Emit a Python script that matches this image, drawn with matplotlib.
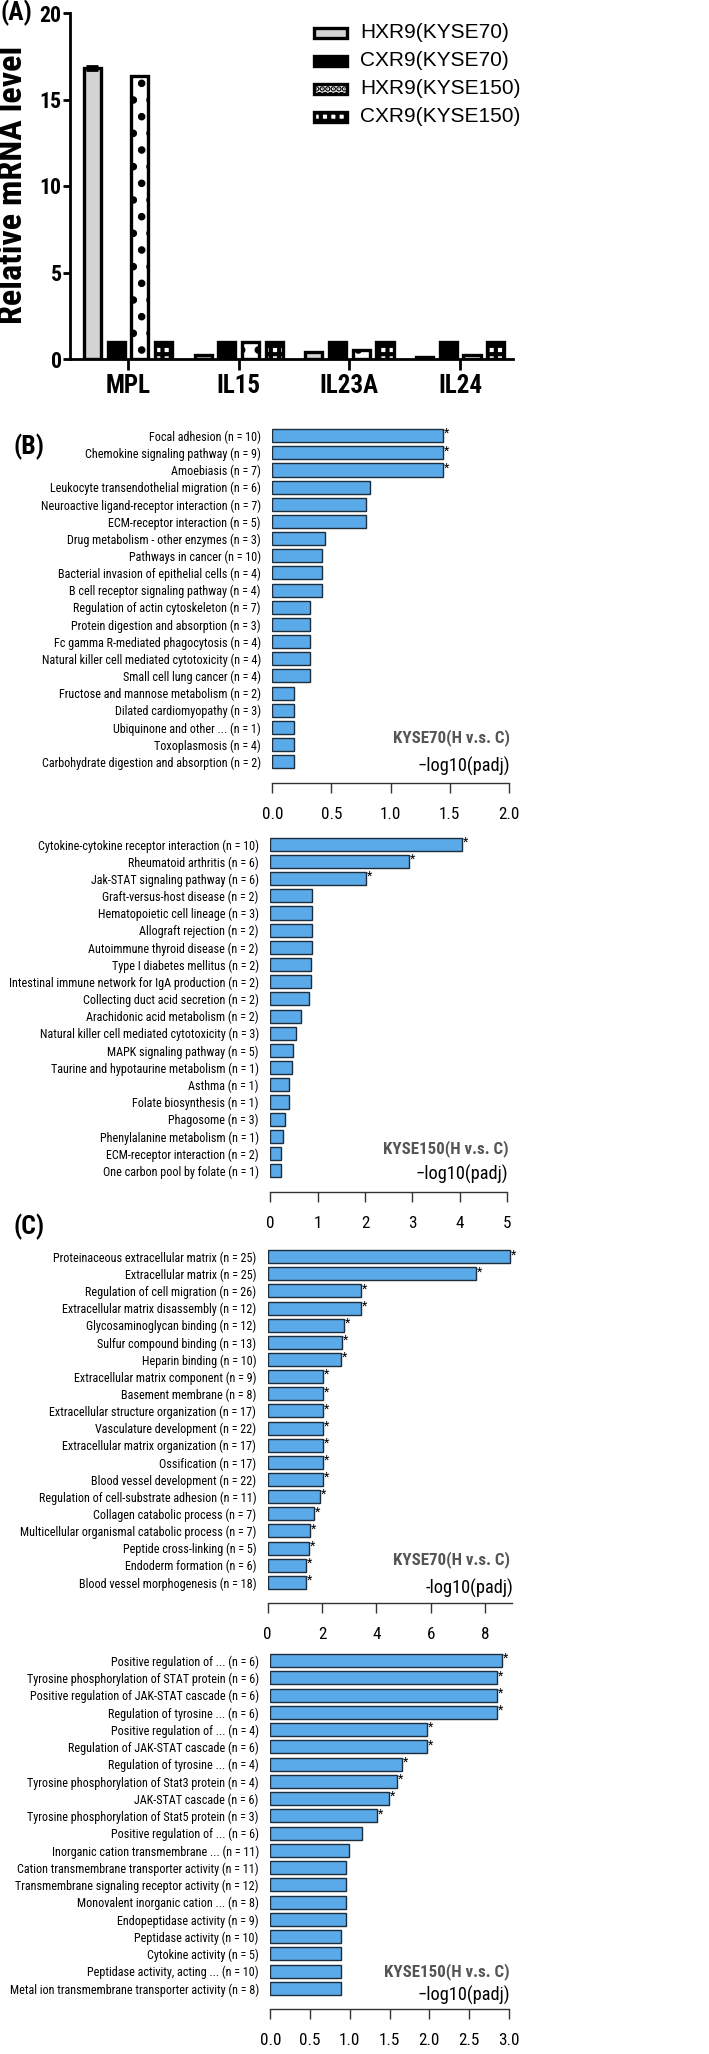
import os
import numpy as np
import matplotlib
matplotlib.use("Agg")
import matplotlib.pyplot as plt
from matplotlib import font_manager as fm
from matplotlib.font_manager import FontProperties
from matplotlib.patches import Rectangle

# ---------------- data ----------------
genes = ["MPL", "IL15", "IL23A", "IL24"]
series_names = ["HXR9(KYSE70)", "CXR9(KYSE70)", "HXR9(KYSE150)", "CXR9(KYSE150)"]
hxr9_kyse70 = [16.8, 0.25, 0.38, 0.10]
cxr9_kyse70 = [1.0, 1.0, 1.0, 1.0]
hxr9_kyse150 = [16.35, 1.0, 0.50, 0.22]
cxr9_kyse150 = [1.0, 1.0, 1.0, 1.0]
hxr9_kyse70_err = [0.12, 0.0, 0.0, 0.0]

kegg70_terms = [
    "Focal adhesion (n = 10)", "Chemokine signaling pathway (n = 9)", "Amoebiasis (n = 7)",
    "Leukocyte transendothelial migration (n = 6)", "Neuroactive ligand-receptor interaction (n = 7)",
    "ECM-receptor interaction (n = 5)", "Drug metabolism - other enzymes (n = 3)",
    "Pathways in cancer (n = 10)", "Bacterial invasion of epithelial cells (n = 4)",
    "B cell receptor signaling pathway (n = 4)", "Regulation of actin cytoskeleton (n = 7)",
    "Protein digestion and absorption (n = 3)", "Fc gamma R-mediated phagocytosis (n = 4)",
    "Natural killer cell mediated cytotoxicity (n = 4)", "Small cell lung cancer (n = 4)",
    "Fructose and mannose metabolism (n = 2)", "Dilated cardiomyopathy (n = 3)",
    "Ubiquinone and other ... (n = 1)", "Toxoplasmosis (n = 4)",
    "Carbohydrate digestion and absorption (n = 2)"]
kegg70_vals = [1.445, 1.445, 1.445, 0.826, 0.795, 0.795, 0.448, 0.423, 0.423, 0.423,
               0.319, 0.319, 0.319, 0.319, 0.319, 0.183, 0.183, 0.183, 0.183, 0.183]
kegg70_sig = [1, 1, 1] + [0] * 17

kegg150_terms = [
    "Cytokine-cytokine receptor interaction (n = 10)", "Rheumatoid arthritis (n = 6)",
    "Jak-STAT signaling pathway (n = 6)", "Graft-versus-host disease (n = 2)",
    "Hematopoietic cell lineage (n = 3)", "Allograft rejection (n = 2)",
    "Autoimmune thyroid disease (n = 2)", "Type I diabetes mellitus (n = 2)",
    "Intestinal immune network for IgA production (n = 2)", "Collecting duct acid secretion (n = 2)",
    "Arachidonic acid metabolism (n = 2)", "Natural killer cell mediated cytotoxicity (n = 3)",
    "MAPK signaling pathway (n = 5)", "Taurine and hypotaurine metabolism (n = 1)",
    "Asthma (n = 1)", "Folate biosynthesis (n = 1)", "Phagosome (n = 3)",
    "Phenylalanine metabolism (n = 1)", "ECM-receptor interaction (n = 2)",
    "One carbon pool by folate (n = 1)"]
kegg150_vals = [4.04, 2.92, 2.015, 0.874, 0.874, 0.874, 0.874, 0.853, 0.853, 0.824,
                0.648, 0.549, 0.486, 0.458, 0.401, 0.401, 0.303, 0.275, 0.226, 0.219]
kegg150_sig = [1, 1, 1] + [0] * 17

go70_terms = [
    "Proteinaceous extracellular matrix (n = 25)", "Extracellular matrix (n = 25)",
    "Regulation of cell migration (n = 26)", "Extracellular matrix disassembly (n = 12)",
    "Glycosaminoglycan binding (n = 12)", "Sulfur compound binding (n = 13)",
    "Heparin binding (n = 10)", "Extracellular matrix component (n = 9)",
    "Basement membrane (n = 8)", "Extracellular structure organization (n = 17)",
    "Vasculature development (n = 22)", "Extracellular matrix organization (n = 17)",
    "Ossification (n = 17)", "Blood vessel development (n = 22)",
    "Regulation of cell-substrate adhesion (n = 11)", "Collagen catabolic process (n = 7)",
    "Multicellular organismal catabolic process (n = 7)", "Peptide cross-linking (n = 5)",
    "Endoderm formation (n = 6)", "Blood vessel morphogenesis (n = 18)"]
go70_vals = [8.91, 7.66, 3.42, 3.42, 2.82, 2.73, 2.71, 2.04, 2.04, 2.02,
             2.02, 2.02, 2.02, 2.02, 1.92, 1.71, 1.57, 1.53, 1.41, 1.41]
go70_sig = [1] * 20

go150_terms = [
    "Positive regulation of ... (n = 6)", "Tyrosine phosphorylation of STAT protein (n = 6)",
    "Positive regulation of JAK-STAT cascade (n = 6)", "Regulation of tyrosine ... (n = 6)",
    "Positive regulation of ... (n = 4)", "Regulation of JAK-STAT cascade (n = 6)",
    "Regulation of tyrosine ... (n = 4)", "Tyrosine phosphorylation of Stat3 protein (n = 4)",
    "JAK-STAT cascade (n = 6)", "Tyrosine phosphorylation of Stat5 protein (n = 3)",
    "Positive regulation of ... (n = 6)", "Inorganic cation transmembrane ... (n = 11)",
    "Cation transmembrane transporter activity (n = 11)",
    "Transmembrane signaling receptor activity (n = 12)",
    "Monovalent inorganic cation ... (n = 8)", "Endopeptidase activity (n = 9)",
    "Peptidase activity (n = 10)", "Cytokine activity (n = 5)",
    "Peptidase activity, acting ... (n = 10)",
    "Metal ion transmembrane transporter activity (n = 8)"]
go150_vals = [2.92, 2.857, 2.857, 2.857, 1.976, 1.976, 1.661, 1.59, 1.494, 1.339,
              1.15, 0.987, 0.949, 0.949, 0.949, 0.949, 0.89, 0.89, 0.89, 0.89]
go150_sig = [1] * 10 + [0] * 10

# ---------------- fonts ----------------
REG = "Liberation Sans"
plt.rcParams["font.family"] = [REG, "DejaVu Sans"]
plt.rcParams["hatch.linewidth"] = 3.0

PREF = ["liberationsansnarrow", "robotocondensed", "notosans", "opensans",
        "arimo", "dejavusans"]


def _weight(w):
    try:
        return int(w)
    except Exception:
        return {"normal": 400, "regular": 400, "book": 400, "medium": 500,
                "bold": 700, "light": 300}.get(str(w).lower(), 400)


def find_condensed(bold):
    best, best_rank = None, 99
    for f in fm.fontManager.ttflist:
        if f.style != "normal":
            continue
        fn = os.path.basename(f.fname).lower().replace("-", "").replace("_", "")
        nm = f.name.lower()
        st = str(f.stretch).lower()
        cond = ("narrow" in nm or "condensed" in nm or "narrow" in fn
                or "condensed" in fn or st == "condensed")
        if not cond:
            continue
        if "extra" in fn or "ultra" in fn or "semi" in fn or "italic" in fn:
            continue
        w = _weight(f.weight)
        if (bold and w != 700) or ((not bold) and w != 400):
            continue
        rank = next((i for i, p in enumerate(PREF) if fn.startswith(p)), len(PREF))
        if rank < best_rank:
            best, best_rank = f.fname, rank
    return best


p_reg = find_condensed(False)
p_bold = find_condensed(True)
FP_REG = FontProperties(fname=p_reg) if p_reg else FontProperties(family=REG)
FP_BOLD = FontProperties(fname=p_bold) if p_bold else FontProperties(family=REG, weight="bold")

W, H = 709, 2054
fig = plt.figure(figsize=(W / 100, H / 100), dpi=100)
renderer = fig.canvas.get_renderer()


def _width(fp, text, size):
    f = fp.copy()
    f.set_size(size)
    t = fig.text(0, 0, text, fontproperties=f)
    w = t.get_window_extent(renderer).width
    t.remove()
    return w


def fp_fit(fp, text, target_px):
    size = 10.0
    for _ in range(3):
        size *= target_px / _width(fp, text, size)
    out = fp.copy()
    out.set_size(size)
    return out


def add_ax(left, top, right, bottom):
    return fig.add_axes([left / W, 1 - bottom / H, (right - left) / W, (bottom - top) / H])


def ftext(x, y, s, **kw):
    return fig.text(x / W, 1 - y / H, s, **kw)


F_LAB = fp_fit(FP_REG, "Carbohydrate digestion and absorption (n = 2)", 220)
F_TITLE = fp_fit(FP_BOLD, "KYSE70(H v.s. C)", 117)
F_XLAB = fp_fit(FP_REG, "\u2212log10(padj)", 92)
F_TICK = fp_fit(FP_REG, "0.0", 21.7)
F_STAR = FP_REG.copy()
F_STAR.set_size(9)
F_A_X = fp_fit(FP_BOLD, "MPL", 45)
F_A_Y = fp_fit(FP_BOLD, "10", 22)
F_A_YLAB = fp_fit(FP_BOLD, "Relative mRNA level", 278)
F_PANEL = fp_fit(FP_BOLD, "(B)", 31)

# ---------------- panel A ----------------
axA = add_ax(70, 13, 513, 359)
xg = np.arange(len(genes))
width = 0.155
step = 0.214
face = ["#d3d3d3", "black", "white", "white"]
hatches = [None, None, ".", "++"]
key_hatches = [None, None, "...", "++"]
series = [hxr9_kyse70, cxr9_kyse70, hxr9_kyse150, cxr9_kyse150]
for k, vals in enumerate(series):
    axA.bar(xg + (k - 1.5) * step, vals, width=width, color=face[k],
            edgecolor="black", linewidth=2.4, hatch=hatches[k],
            yerr=hxr9_kyse70_err if k == 0 else None,
            error_kw=dict(ecolor="black", elinewidth=2, capsize=4, capthick=2))
axA.set_xlim(-0.524, 3.478)
axA.set_ylim(0, 20)
axA.set_yticks([0, 5, 10, 15, 20])
axA.set_xticks(xg, genes)
for s in ["top", "right"]:
    axA.spines[s].set_visible(False)
for s in ["left", "bottom"]:
    axA.spines[s].set_linewidth(2)
axA.tick_params(axis="y", direction="out", length=5, width=2, pad=1)
axA.tick_params(axis="x", direction="out", length=8, width=2, pad=3)
for lab in axA.get_yticklabels():
    lab.set_fontproperties(F_A_Y)
for lab in axA.get_xticklabels():
    lab.set_fontproperties(F_A_X)
ftext(13, 185, "Relative mRNA level", rotation=90, ha="center", va="center",
      fontproperties=F_A_YLAB)
ftext(0, 0, "(A)", ha="left", va="top", fontproperties=F_PANEL)

# legend drawn as keys + texts
row_y = [33, 61, 89, 117]
for k, name in enumerate(series_names):
    fig.add_artist(Rectangle((314 / W, 1 - (row_y[k] + 5) / H), 33 / W, 10 / H,
                             transform=fig.transFigure, facecolor=face[k],
                             edgecolor="black", linewidth=2.4, hatch=key_hatches[k]))
    ftext(360, row_y[k], name, ha="left", va="center", fontsize=15, family=REG)

# ---------------- bar panels ----------------
BLUE = "#5aaae9"
EDGE = "#1e2d3c"


def go_panel(terms, values, sig, xmax, xticks, xticklabels, x0px, x1px,
             first_px, last_px, spine_px, title, title_xy, xlab, xlab_xy):
    n = len(terms)
    sp = (last_px - first_px) / (n - 1)
    ax = add_ax(x0px, first_px - sp / 2, x1px, spine_px)
    y = np.arange(n)
    ax.barh(y, values, height=0.76, color=BLUE, edgecolor=EDGE, linewidth=1.0)
    ax.set_xlim(0, xmax)
    ax.set_ylim((spine_px - first_px) / sp, -0.5)
    ax.set_yticks(y, terms)
    ax.set_xticks(xticks, xticklabels)
    for s in ["left", "top", "right"]:
        ax.spines[s].set_visible(False)
    ax.spines["bottom"].set_color("#333333")
    ax.spines["bottom"].set_linewidth(1.0)
    ax.tick_params(axis="y", length=0, pad=8.3)
    ax.tick_params(axis="x", direction="out", length=7.2, width=1.0,
                   color="#333333", pad=10.0)
    for lab in ax.get_yticklabels():
        lab.set_fontproperties(F_LAB)
    for lab in ax.get_xticklabels():
        lab.set_fontproperties(F_TICK)
    for yi, (v, s) in enumerate(zip(values, sig)):
        if s:
            ax.annotate("*", xy=(v, yi - 0.5), xytext=(0.6, 0), textcoords="offset points",
                        ha="left", va="top", fontproperties=F_STAR)
    ftext(title_xy[0], title_xy[1], title, ha="right", va="center",
          fontproperties=F_TITLE, color="#555555")
    ftext(xlab_xy[0], xlab_xy[1], xlab, ha="right", va="center", fontproperties=F_XLAB)
    return ax


go_panel(kegg70_terms, kegg70_vals, kegg70_sig, 2.0, [0, 0.5, 1.0, 1.5, 2.0],
         ["0.0", "0.5", "1.0", "1.5", "2.0"], 272.3, 509, 435.7, 761.7, 782.7,
         "KYSE70(H v.s. C)", (510, 738), "\u2212log10(padj)", (510, 766))
go_panel(kegg150_terms, kegg150_vals, kegg150_sig, 5.0, [0, 1, 2, 3, 4, 5],
         ["0", "1", "2", "3", "4", "5"], 270.3, 507, 844.3, 1170.7, 1192.3,
         "KYSE150(H v.s. C)", (508.3, 1148.3), "\u2212log10(padj)", (508.3, 1174))
go_panel(go70_terms, go70_vals, go70_sig, 9.0, [0, 2, 4, 6, 8],
         ["0", "2", "4", "6", "8"], 267.7, 512.3, 1256.7, 1582.3, 1603.3,
         "KYSE70(H v.s. C)", (510, 1560), "-log10(padj)", (513, 1588))
go_panel(go150_terms, go150_vals, go150_sig, 3.0, [0, 0.5, 1.0, 1.5, 2.0, 2.5, 3.0],
         ["0.0", "0.5", "1.0", "1.5", "2.0", "2.5", "3.0"], 270.3, 508.7, 1660.7, 1988.3, 2009,
         "KYSE150(H v.s. C)", (510, 1971.7), "\u2212log10(padj)", (510, 1995.7))

ftext(29, 446.7, "(B)", ha="center", va="center", fontproperties=F_PANEL)
ftext(29, 1226.7, "(C)", ha="center", va="center", fontproperties=F_PANEL)

fig.savefig("out.png", dpi=100)
